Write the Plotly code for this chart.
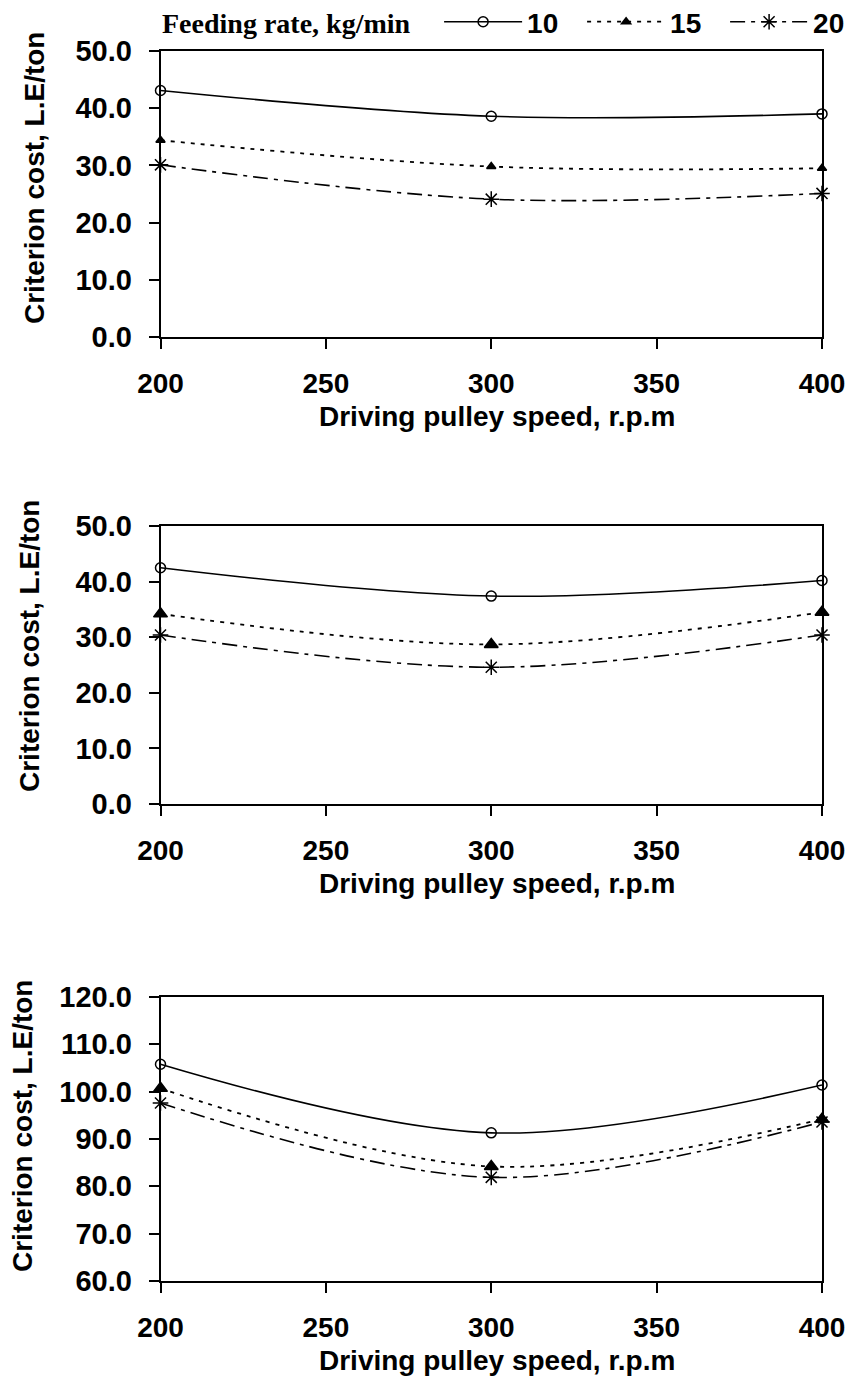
import plotly.graph_objects as go

speeds = [200, 300, 400]
series_names = ["10", "15", "20"]

# Panel 1 values (criterion cost, L.E/ton)
p1_10 = [43.1, 38.6, 39.0]
p1_15 = [34.4, 29.8, 29.5]
p1_20 = [30.1, 24.1, 25.1]

# Panel 2 values
p2_10 = [42.5, 37.4, 40.2]
p2_15 = [34.2, 28.7, 34.5]
p2_20 = [30.4, 24.6, 30.4]

# Panel 3 values
p3_10 = [105.8, 91.3, 101.4]
p3_15 = [100.7, 84.2, 94.2]
p3_20 = [97.6, 81.9, 93.6]

x_ticks = [200, 250, 300, 350, 400]
y_ticks_a = [0, 10, 20, 30, 40, 50]
y_ticks_b = [60, 70, 80, 90, 100, 110, 120]

panels = [(p1_10, p1_15, p1_20), (p2_10, p2_15, p2_20), (p3_10, p3_15, p3_20)]

styles = [
    dict(dash="solid", symbol="circle-open", sizes=[10, 10, 10], lw=1.6),
    dict(dash="4px,6px", symbol="triangle-up", sizes=[8, 12, 12], lw=1.8),
    dict(dash="15px,6px,4px,6px", symbol="asterisk-open", sizes=[13, 13, 13], lw=1.6),
]

H = 1380.0
W = 853.0
OFF = 8  # page body margin
xdom = [(160.5 - OFF) / W, (822 - OFF) / W]
# (top px, bottom px) of each plot area, in page pixels
ypix = [(51, 337), (526, 804), (997, 1281)]

fig = go.Figure()
for i, vals in enumerate(panels):
    for j, v in enumerate(vals):
        st = styles[j]
        fig.add_trace(go.Scatter(
            x=speeds, y=v, name=series_names[j],
            mode="lines+markers",
            line=dict(color="black", width=st["lw"], dash=st["dash"], shape="spline", smoothing=1.0),
            marker=dict(symbol=st["symbol"], size=st["sizes"][i], color="black",
                        line=dict(color="black", width=1.5)),
            xaxis="x" if i == 0 else f"x{i+1}",
            yaxis="y" if i == 0 else f"y{i+1}",
            showlegend=(i == 0),
            cliponaxis=False,
        ))

tick_font = dict(family="Liberation Sans, Arial, sans-serif", size=28, color="black", weight="bold")
ytick_font = dict(family="Liberation Sans, Arial, sans-serif", size=29, color="black", weight="bold")
title_font = dict(family="Liberation Sans, Arial, sans-serif", size=28, color="black", weight="bold")

layout = dict(
    width=853, height=1380,
    margin=dict(l=0, r=0, t=0, b=0, autoexpand=False),
    paper_bgcolor="white", plot_bgcolor="white",
    showlegend=True,
    legend=dict(
        orientation="h", x=(160 - OFF) / W, xanchor="left", y=1 - (22 - OFF) / H, yanchor="middle",
        title=dict(text="Feeding rate, kg/min\u00a0\u00a0\u00a0", side="left",
                   font=dict(family="Liberation Serif, Times New Roman, serif", size=28,
                             color="black", weight="bold")),
        font=dict(family="Liberation Sans, Arial, sans-serif", size=28, color="black", weight="bold"),
        itemwidth=78, entrywidth=50, bgcolor="rgba(0,0,0,0)",
    ),
)

annotations = []
ytitle_x = [26, 22, 14]
ytitle_c = [178, 646, 1126]
for i in range(3):
    sfx = "" if i == 0 else str(i + 1)
    top, bot = ypix[i]
    ydom = [1 - (bot - OFF) / H, 1 - (top - OFF) / H]
    if i < 2:
        yrange, yt = [0, 50], y_ticks_a
    else:
        yrange, yt = [60, 120], y_ticks_b
    layout["xaxis" + sfx] = dict(
        domain=xdom, range=[200, 400], anchor="y" + sfx,
        tickvals=x_ticks, ticks="outside", ticklen=10, tickwidth=1.5, tickcolor="black",
        showline=True, linecolor="black", linewidth=1.5, mirror=True,
        showgrid=False, zeroline=False, tickfont=tick_font, ticklabelstandoff=11,
    )
    layout["yaxis" + sfx] = dict(
        domain=ydom, range=yrange, anchor="x" + sfx,
        tickvals=yt, tickformat=".1f", ticks="outside", ticklen=10, tickwidth=1.5, tickcolor="black",
        showline=True, linecolor="black", linewidth=1.5, mirror=True,
        showgrid=False, zeroline=False, tickfont=ytick_font, ticklabelstandoff=11,
    )
    annotations.append(dict(
        text="Driving pulley speed, r.p.m", xref="paper", yref="paper",
        x=(497 - OFF) / W, y=1 - (bot + 79 - OFF) / H, xanchor="center", yanchor="middle",
        showarrow=False, font=title_font,
    ))
    annotations.append(dict(
        text="Criterion cost, L.E/ton", xref="paper", yref="paper",
        x=ytitle_x[i] / W, y=1 - (ytitle_c[i] - OFF) / H, xanchor="center", yanchor="middle",
        textangle=-90, showarrow=False, font=title_font,
    ))

layout["annotations"] = annotations
fig.update_layout(**layout)
fig.write_html("out.html")
